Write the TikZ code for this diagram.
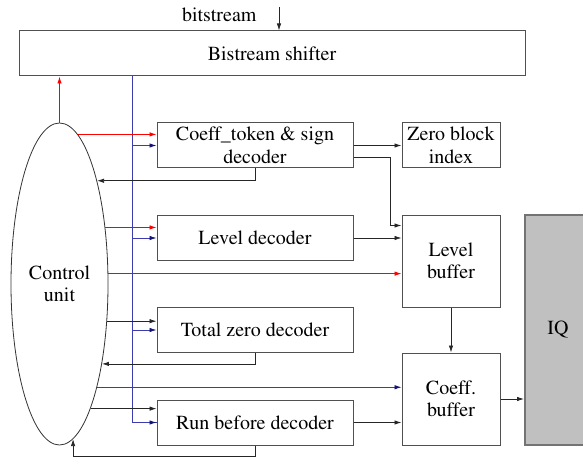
\documentclass[tikz,border=0pt]{standalone}
\usepackage[T1]{fontenc}
\usepackage{mathptmx}
\usetikzlibrary{arrows.meta,positioning,shapes.geometric,calc}

\definecolor{boxline}{RGB}{80,80,80}
\definecolor{busblue}{RGB}{60,60,175}
\definecolor{tipblue}{RGB}{20,20,120}
\definecolor{iqgray}{RGB}{192,192,192}

\begin{document}
\begin{tikzpicture}[
    x=1pt, y=-1pt,
    every node/.style={font=\fontsize{20}{22.5}\selectfont},
    block/.style={draw=boxline, line width=1pt, align=center,
        inner sep=0pt, minimum width=196pt, minimum height=45pt},
    buffer/.style={block, minimum width=98pt, minimum height=92pt},
    ctrlshape/.style={draw=black!80, ellipse, line width=0.8pt, align=center,
        inner sep=0pt, minimum width=97pt, minimum height=322pt},
    arrow/.style={-{Latex[length=7pt, width=4.5pt]}, line width=0.8pt, black!85},
    redarrow/.style={arrow, red},
    bluearrow/.style={line width=0.8pt, busblue,
        -{Latex[length=7pt, width=4.5pt, fill=tipblue, color=tipblue]}},
    busline/.style={line width=0.8pt, busblue}
]
    \useasboundingbox (0,0) rectangle (583,457);

    % top shifter and input
    \node[block, minimum width=506pt] (shifter) at (272, 53.5) {Bistream shifter};
    \coordinate (bsin) at (279, 7);
    \node[anchor=east] (bitsrc) at (260, 15) {bitstream};
    \draw[arrow] (bsin) -- (bsin |- shifter.north);

    % control unit
    \node[ctrlshape] (ctrl) at (59.5, 284) {Control\\unit};

    % decoders
    \node[block] (coeff) at (255, 145.5) {Coeff\_token \& sign\\decoder};
    \node[block] (level) at (255, 238) {Level decoder};
    \node[block] (total) at (255, 330) {Total zero decoder};
    \node[block] (run) at (255, 422.5) {Run before decoder};

    % right side
    \node[block, minimum width=98pt] (zero) at (451, 145.5) {Zero block\\index};
    \node[buffer] (lbuf) at (451, 261) {Level\\buffer};
    \node[buffer] (cbuf) at (451, 399) {Coeff.\\buffer};
    \node[draw=black!55, line width=2pt, fill=iqgray, inner sep=0pt,
        minimum width=66pt, minimum height=230pt] (iq) at (558, 330) {IQ};

    % bus from the shifter
    \coordinate (bus) at (132, 76);
    \draw[busline] (bus) |- (run.west);
    \draw[bluearrow] (bus |- run.west) -- (run.west);
    \draw[bluearrow] (bus |- coeff.west) -- (coeff.west);
    \draw[bluearrow] (bus |- level.west) -- (level.west);
    \draw[bluearrow] (bus |- total.west) -- (total.west);

    % control signals
    \draw[redarrow] (ctrl.north) -- (ctrl.north |- shifter.south);
    \draw[redarrow] (ctrl.83.3) -- (ctrl.83.3 -| coeff.west);
    \draw[redarrow] (ctrl.51.5) -- (ctrl.51.5 -| level.west);
    \draw[redarrow] (ctrl.12.8) -- (ctrl.12.8 -| lbuf.west);
    \draw[arrow] (ctrl.-38.1) -- (ctrl.-38.1 -| total.west);
    \draw[bluearrow] (ctrl.-70.7) -- (ctrl.-70.7 -| cbuf.west);
    \draw[arrow] (ctrl.-76.8) -- (ctrl.-76.8 -| run.west);

    % feedback to control
    \draw[arrow] (coeff.south) |- (ctrl.70.1);
    \draw[arrow] (total.south) |- (ctrl.-62.6);
    \draw[arrow] (run.south) -- ++(0, 11) -| (ctrl.-85.8);

    % data path
    \coordinate (cout) at ($(coeff.south east)+(0,-11)$);
    \coordinate (lin) at ($(lbuf.north west)+(0,11)$);
    \draw[arrow] (coeff.east) -- (zero.west);
    \draw[arrow] (cout) -- ++(37, 0) |- (lin);
    \draw[arrow] (level.east) -- (level.east -| lbuf.west);
    \draw[arrow] (lbuf.south) -- (cbuf.north);
    \draw[arrow] (run.east) -- (run.east -| cbuf.west);
    \draw[arrow] (cbuf.east) -- (cbuf.east -| iq.west);
\end{tikzpicture}
\end{document}
